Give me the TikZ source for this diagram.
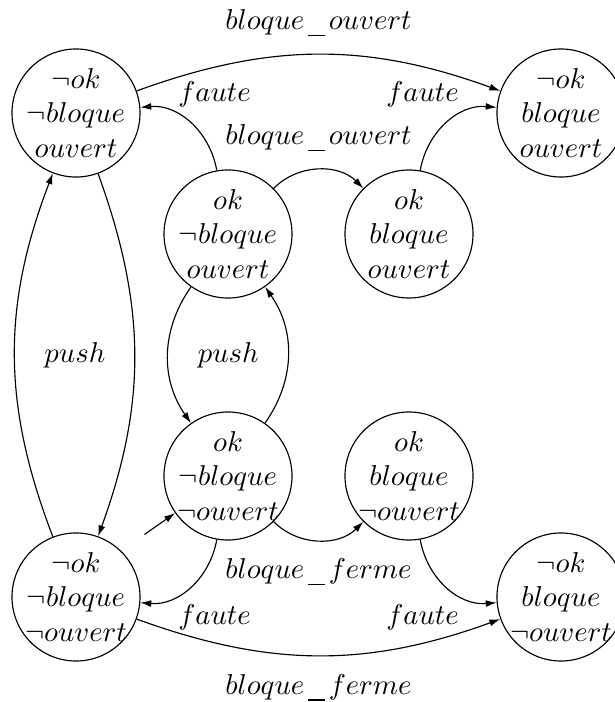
\documentclass[tikz,border=0pt]{standalone}
\usetikzlibrary{arrows.meta,positioning,calc}
\newcommand{\undsc}{\kern1.4pt\rule[-2.3pt]{5.8pt}{0.45pt}\kern1.3pt}

\begin{document}
\begin{tikzpicture}[
    x=0.3484pt, y=0.3484pt,
    state/.style={draw, circle, align=center, inner sep=-6pt, minimum size=44.6pt},
    arrow/.style={-{Latex[length=3.8pt, width=2.4pt]}},
    lbl/.style={inner sep=3.33pt}
]
\useasboundingbox (0,0) rectangle (615,702);

\node[state] (nok_open) at (76,589) {$\neg ok$\\$\neg bloque$\\$ouvert$};
\node[state] (nok_lock_open) at (561,589) {$\neg ok$\\$bloque$\\$ouvert$};
\node[state] (ok_open) at (228,468) {$ok$\\$\neg bloque$\\$ouvert$};
\node[state] (ok_lock_open) at (409,468) {$ok$\\$bloque$\\$ouvert$};
\node[state] (ok_closed) at (228,226) {$ok$\\$\neg bloque$\\$\neg ouvert$};
\node[state] (ok_lock_closed) at (409,226) {$ok$\\$bloque$\\$\neg ouvert$};
\node[state] (nok_closed) at (76,105) {$\neg ok$\\$\neg bloque$\\$\neg ouvert$};
\node[state] (nok_lock_closed) at (561,105) {$\neg ok$\\$bloque$\\$\neg ouvert$};

\coordinate (init) at ($(ok_closed.215)+(215:13pt)$);

\draw[arrow] (nok_open) to[bend left=20] node[lbl, above=3pt] {$bloque\undsc ouvert$} (nok_lock_open);
\draw[arrow] (ok_open) to[bend left=45] node[lbl, above=3pt] {$bloque\undsc ouvert$} (ok_lock_open);
\draw[arrow] (ok_open) to[out=100, in=5] node[lbl, shift={(24,29)}] {$faute$} (nok_open);
\draw[arrow] (ok_lock_open) to[out=80, in=175] node[lbl, shift={(-24,29)}] {$faute$} (nok_lock_open);
\draw[arrow] (nok_open) to[bend left=20] (nok_closed);
\draw[arrow] (nok_closed) to[bend left=21] node[lbl, right=2.4mm] {$push$} (nok_open);
\draw[arrow] (ok_open) to[bend right=35] node[lbl, right=2.4mm] {$push$} (ok_closed);
\draw[arrow] (ok_closed) to[bend right=35] (ok_open);
\draw[arrow] (ok_closed) to[bend right=45] node[lbl, below=3pt] {$bloque\undsc ferme$} (ok_lock_closed);
\draw[arrow] (ok_closed) to[out=-100, in=-5] node[lbl, shift={(24,-31)}] {$faute$} (nok_closed);
\draw[arrow] (ok_lock_closed) to[out=-80, in=185] node[lbl, shift={(-24,-31)}] {$faute$} (nok_lock_closed);
\draw[arrow] (nok_closed) to[bend right=20] node[lbl, below=3pt] {$bloque\undsc ferme$} (nok_lock_closed);
\draw[arrow] (init) -- (ok_closed.215);
\end{tikzpicture}
\end{document}
